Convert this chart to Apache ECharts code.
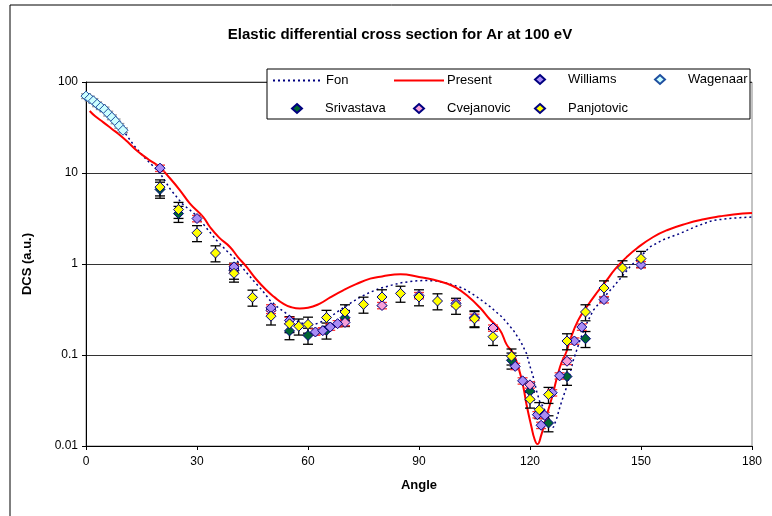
<!DOCTYPE html>
<html><head><meta charset="utf-8">
<script src="https://cdn.jsdelivr.net/npm/echarts@6/dist/echarts.min.js"></script>
<style>html,body{margin:0;padding:0;background:#fff}#c{width:772px;height:516px}</style>
</head><body><div id="c"></div>
<script>
// ---- data (angle in degrees, DCS in a.u.) ----
const xTicks = [0, 30, 60, 90, 120, 150, 180];
const yTicks = [0.01, 0.1, 1, 10, 100];

const fon = [[0,70],[2,62],[4,53],[6,45],[8,37],[10,29.5],[13,20],[16,14.5],[19,11],[20,10],[22.7,6.7],[26,4.6],[29.9,3.4],[32.5,2.5],[35.3,1.82],[38,1.4],[40.7,1.1],[43,0.84],[45.2,0.66],[47.5,0.52],[49.7,0.40],[52,0.33],[55,0.27],[57.5,0.23],[60.5,0.21],[63,0.225],[65.9,0.26],[68.5,0.31],[71.4,0.37],[74,0.43],[76.8,0.49],[79.5,0.54],[82.2,0.58],[85,0.62],[88.5,0.65],[92,0.66],[94.8,0.65],[98,0.61],[102,0.54],[105.5,0.44],[109.2,0.34],[112.5,0.26],[115.5,0.187],[117.5,0.14],[119.1,0.103],[120,0.075],[120.9,0.057],[121.8,0.04],[122.7,0.03],[123.6,0.027],[124.5,0.022],[125.4,0.019],[126.3,0.016],[127.2,0.02],[128.1,0.027],[129,0.035],[129.9,0.0445],[130.8,0.062],[131.7,0.0875],[133.5,0.145],[135,0.21],[137.1,0.31],[140,0.43],[142.5,0.56],[145,0.74],[147,0.93],[150,1.22],[152.4,1.54],[156,1.85],[160.5,2.16],[165,2.6],[169.5,3.02],[175,3.2],[180,3.28]];

const present = [[1,48],[2.5,42],[4.7,36],[7,30.5],[9.2,26],[11.5,21.5],[13.7,17.7],[17,14],[20,11.5],[22.7,8.75],[25.4,6.46],[28.1,4.61],[31.7,3.28],[33.5,2.55],[36,1.95],[38.9,1.54],[41,1.2],[43.4,0.93],[46,0.68],[48.8,0.514],[51,0.43],[53.3,0.367],[55.5,0.335],[57.8,0.324],[60,0.33],[63.2,0.367],[66,0.43],[69.5,0.514],[73,0.6],[76.8,0.69],[80,0.73],[85,0.77],[90,0.72],[94,0.67],[97.5,0.61],[100,0.55],[103,0.45],[106.5,0.33],[109,0.25],[111.9,0.187],[113.7,0.13],[115.5,0.103],[117,0.07],[118.2,0.0445],[119.1,0.028],[120.4,0.0162],[121.2,0.012],[122,0.0105],[123,0.013],[124.5,0.0215],[126,0.035],[128.1,0.0738],[129.9,0.11],[130.8,0.145],[133,0.24],[135.3,0.337],[138,0.48],[140.7,0.66],[143,0.88],[146.1,1.19],[149,1.5],[153.3,1.98],[157,2.35],[162.3,2.78],[167,3.1],[171.4,3.34],[175,3.5],[180,3.63]];

const williams = [[20,11.3],[30,3.16],[40,0.93],[50,0.33],[55,0.24],[62,0.179],[64,0.185],[66,0.203],[68,0.221],[100,0.37],[105,0.26],[116,0.075],[118,0.052],[122,0.0221],[123,0.0169],[124,0.0217],[126,0.0385],[128,0.059],[132,0.1426],[134,0.203],[140,0.406],[150,0.985]];
const wagenaar = [[0,70],[1,66],[2,62],[3,57],[4,53],[5,50],[6,45],[7,41],[8,37],[9,33],[10,29.5]];
const srivastava = [[20,6.6],[25,3.58],[40,0.85],[55,0.184],[60,0.164],[65,0.187],[70,0.257],[105,0.255],[115,0.0875],[120,0.040],[125,0.0179],[130,0.058],[135,0.151]];
const cvejanovic = [[40,0.88],[50,0.31],[70,0.228],[80,0.35],[90,0.45],[110,0.198],[120,0.047],[130,0.0854]];
const panjotovic = [[20,7.0],[25,3.96],[30,2.2],[35,1.32],[40,0.79],[45,0.43],[50,0.267],[55,0.22],[57.5,0.207],[60,0.217],[65,0.258],[70,0.297],[75,0.36],[80,0.434],[85,0.475],[90,0.434],[95,0.392],[100,0.35],[105,0.25],[110,0.159],[115,0.097],[120,0.0326],[122.5,0.025],[125,0.0367],[130,0.1426],[135,0.297],[140,0.544],[145,0.904],[150,1.146]];

const errFrac = {Williams: 0.08, Wagenaar: 0.06, Srivastava: 0.2, Cvejanovic: 0.08, Panjotovic: 0.2};

// ---- chart ----
const chart = echarts.init(document.getElementById('c'), null, {renderer: 'canvas'});
const FONT = 'Liberation Sans, Arial, sans-serif';

function errSeries(name, pts, color, z) {
  const f = errFrac[name];
  return {
    type: 'custom', name: name + ' err', z: z, silent: true,
    encode: {x: 0, y: [1, 2]},
    data: pts.map(p => [p[0], p[1] * (1 - f), p[1] * (1 + f)]),
    renderItem: function (params, api) {
      const x = api.value(0);
      const top = api.coord([x, api.value(2)]);
      const bot = api.coord([x, api.value(1)]);
      const w = 5;
      const st = {stroke: color, lineWidth: 1.3};
      return {type: 'group', children: [
        {type: 'line', shape: {x1: top[0], y1: top[1], x2: bot[0], y2: bot[1]}, style: st},
        {type: 'line', shape: {x1: top[0] - w, y1: top[1], x2: top[0] + w, y2: top[1]}, style: st},
        {type: 'line', shape: {x1: bot[0] - w, y1: bot[1], x2: bot[0] + w, y2: bot[1]}, style: st}
      ]};
    }
  };
}
function scat(name, pts, fill, border, z) {
  return {type: 'scatter', name: name, data: pts, symbol: 'diamond', symbolSize: 10, z: z,
    itemStyle: {color: fill, borderColor: border, borderWidth: 1, opacity: 1}};
}
function leg(name, left, top, w) {
  const isLine = w === 50;
  const l = {data: [name], left: left, top: top, padding: 0, itemWidth: w, itemHeight: isLine ? 6 : 9,
    selectedMode: false, itemGap: 0,
    textStyle: {fontFamily: FONT, fontSize: 13, color: '#000', padding: isLine ? [0,0,0,-2] : [0,0,0,18]}};
  if (isLine) l.itemStyle = {opacity: 0};
  return l;
}

const option = {
  animation: false,
  backgroundColor: '#fff',
  title: {text: 'Elastic differential cross section for Ar at 100 eV', left: 395, top: 22, textAlign: 'center',
    textStyle: {fontFamily: FONT, fontSize: 15, fontWeight: 'bold', color: '#000'}},
  grid: {left: 86, top: 82, right: 20, bottom: 70, show: true, borderColor: '#888', borderWidth: 1},
  graphic: [
    {type: 'rect', shape: {x: 10, y: 5, width: 800, height: 600}, style: {fill: 'none', stroke: '#000', lineWidth: 1}, z: 0},
    {type: 'rect', shape: {x: 267, y: 69, width: 483, height: 50}, style: {fill: '#fff', stroke: '#000', lineWidth: 1}, z: 50}
  ],
  legend: [
    leg('Fon', 272, 74, 50), leg('Present', 393, 74, 50), leg('Williams', 534, 73, 10), leg('Wagenaar', 654, 73, 10),
    leg('Srivastava', 291, 102, 10), leg('Cvejanovic', 413, 102, 10), leg('Panjotovic', 534, 102, 10)
  ].map(l => Object.assign(l, {z: 60})),
  xAxis: {type: 'value', min: 0, max: 180, interval: 30,
    name: 'Angle', nameLocation: 'middle', nameGap: 33,
    nameTextStyle: {fontFamily: FONT, fontSize: 13, fontWeight: 'bold', color: '#000'},
    axisLine: {lineStyle: {color: '#000', width: 1}},
    axisTick: {show: true, length: 4, lineStyle: {color: '#000'}},
    axisLabel: {fontFamily: FONT, fontSize: 12, color: '#000', margin: 10,
      customValues: xTicks},
    splitLine: {show: false}},
  yAxis: {type: 'log', logBase: 10, min: 0.01, max: 100,
    name: 'DCS (a.u.)', nameLocation: 'middle', nameGap: 52, nameRotate: 90,
    nameTextStyle: {fontFamily: FONT, fontSize: 13, fontWeight: 'bold', color: '#000'},
    axisLine: {show: true, lineStyle: {color: '#000', width: 1}},
    axisTick: {show: true, length: 4, lineStyle: {color: '#000'}},
    axisLabel: {fontFamily: FONT, fontSize: 12, color: '#000', margin: 8,
      formatter: v => { const t = yTicks.find(k => Math.abs(Math.log10(k) - Math.log10(v)) < 1e-6); return t === undefined ? '' : String(t); }},
    splitLine: {show: true, lineStyle: {color: '#333', width: 1}}},
  series: [
    {type: 'line', name: 'Fon', data: fon, symbol: 'none', smooth: false, z: 3,
      lineStyle: {color: '#000080', width: 1.5, type: [2, 3]}, itemStyle: {color: '#000080'}},
    {type: 'line', name: 'Present', data: present, symbol: 'none', smooth: true, z: 4,
      lineStyle: {color: '#ff0000', width: 2}, itemStyle: {color: '#ff0000'}},
    errSeries('Wagenaar', wagenaar, '#999', 5),
    errSeries('Srivastava', srivastava, '#000', 5),
    errSeries('Panjotovic', panjotovic, '#000', 5),
    errSeries('Cvejanovic', cvejanovic, '#ff3333', 5),
    errSeries('Williams', williams, '#ff3333', 5),
    scat('Wagenaar', wagenaar, '#ccffff', '#1f4fa0', 10),
    scat('Srivastava', srivastava, '#006633', '#000080', 11),
    scat('Cvejanovic', cvejanovic, '#f7a0d8', '#000080', 12),
    scat('Williams', williams, '#a98cf5', '#000080', 13),
    scat('Panjotovic', panjotovic, '#ffff00', '#000080', 14)
  ]
};
chart.setOption(option);
</script></body></html>
